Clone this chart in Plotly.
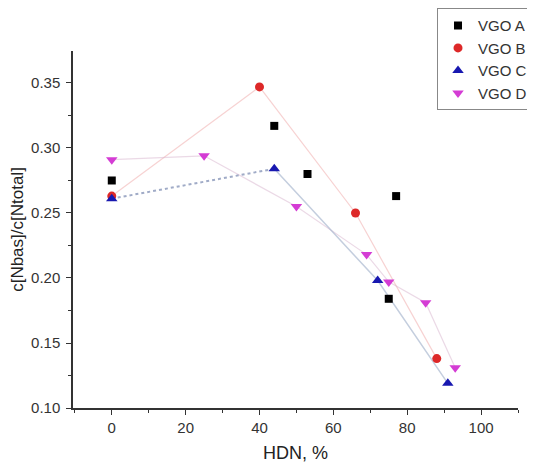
import plotly.graph_objects as go

# Data
a_x = [0, 44, 53, 75, 77]
a_y = [0.275, 0.317, 0.280, 0.184, 0.263]

b_x = [0, 40, 66, 88]
b_y = [0.263, 0.347, 0.250, 0.138]

c_x = [0, 44, 72, 91]
c_y = [0.261, 0.284, 0.198, 0.119]

d_x = [0, 25, 50, 69, 75, 85, 93]
d_y = [0.291, 0.294, 0.255, 0.218, 0.197, 0.181, 0.131]

names = ["VGO A", "VGO B", "VGO C", "VGO D"]
x_ticks = [0, 20, 40, 60, 80, 100]
y_ticks = [0.10, 0.15, 0.20, 0.25, 0.30, 0.35]

FONT = "Liberation Sans, Arial, sans-serif"

fig = go.Figure()

# faint connecting lines (no legend)
fig.add_trace(go.Scatter(x=b_x, y=b_y, mode="lines", showlegend=False, hoverinfo="skip",
                         line=dict(color="rgba(240,165,165,0.5)", width=1.2)))
fig.add_trace(go.Scatter(x=d_x, y=d_y, mode="lines", showlegend=False, hoverinfo="skip",
                         line=dict(color="rgba(215,180,205,0.5)", width=1.2)))
fig.add_trace(go.Scatter(x=c_x[:2], y=c_y[:2], mode="lines", showlegend=False, hoverinfo="skip",
                         line=dict(color="rgba(120,135,175,0.7)", width=2, dash="dot")))
fig.add_trace(go.Scatter(x=c_x[1:], y=c_y[1:], mode="lines", showlegend=False, hoverinfo="skip",
                         line=dict(color="rgba(165,180,205,0.65)", width=1.5)))

# markers
fig.add_trace(go.Scatter(x=a_x, y=a_y, mode="markers", name=names[0],
                         marker=dict(symbol="square", size=8, color="#000000")))
fig.add_trace(go.Scatter(x=b_x, y=b_y, mode="markers", name=names[1],
                         marker=dict(symbol="circle", size=9, color="#dd2828")))
fig.add_trace(go.Scatter(x=c_x, y=c_y, mode="markers", name=names[2],
                         marker=dict(symbol="triangle-up", size=10, color="#1818b0")))
fig.add_trace(go.Scatter(x=d_x, y=d_y, mode="markers", name=names[3],
                         marker=dict(symbol="triangle-down", size=10, color="#d43cd4")))

axis_common = dict(
    showgrid=False, zeroline=False, showline=True, linecolor="#333333", linewidth=1.5,
    ticks="outside", ticklen=5, tickwidth=1.2, tickcolor="#333333",
    tickfont=dict(family=FONT, size=15, color="#333333"),
    minor=dict(ticks="outside", ticklen=3, tickwidth=1, tickcolor="#333333"),
)

fig.update_xaxes(range=[-10.5, 110], tickvals=x_ticks, ticktext=[str(v) for v in x_ticks],
                 minor_dtick=10, ticklabelstandoff=0,
                 title=dict(text="HDN, %", font=dict(family=FONT, size=18, color="#222222"), standoff=14),
                 **axis_common)
fig.update_yaxes(range=[0.10, 0.3746], tickvals=y_ticks, ticktext=[f"{v:.2f}" for v in y_ticks],
                 minor_dtick=0.025, ticklabelstandoff=3,
                 title=dict(text="c[Nbas]/c[Ntotal]", font=dict(family=FONT, size=17, color="#222222"), standoff=5),
                 **axis_common)

# the page body adds an 8px margin, so the figure is sized/offset to compensate
fig.update_layout(
    width=527, height=455,
    margin=dict(l=65, r=17, t=43, b=55, autoexpand=False),
    paper_bgcolor="white", plot_bgcolor="white",
    font=dict(family=FONT),
    legend=dict(x=0.818, y=1.12, xanchor="left", yanchor="top",
                bordercolor="#888888", borderwidth=1, bgcolor="white",
                font=dict(family=FONT, size=15, color="#333333"),
                tracegroupgap=0),
)

fig.write_html("out.html")
